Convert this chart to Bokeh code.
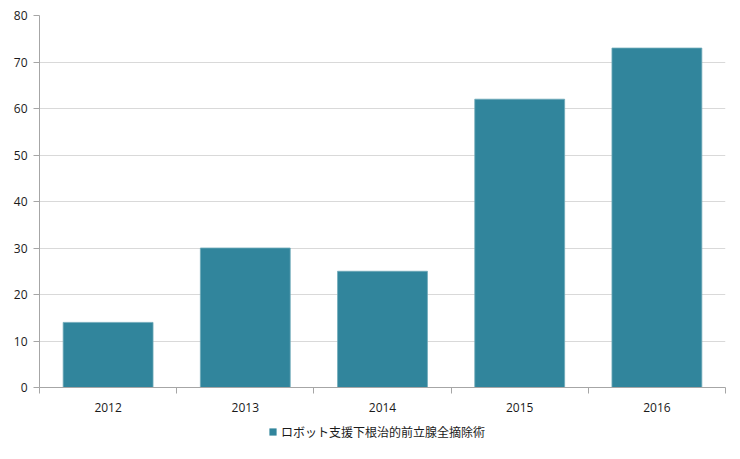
from bokeh.plotting import figure
from bokeh.layouts import column
from bokeh.models import FixedTicker, Legend, LegendItem, ColumnDataSource
from bokeh.embed import file_html
from bokeh.resources import INLINE

years = ["2012", "2013", "2014", "2015", "2016"]
counts = [14, 30, 25, 62, 73]
series_name = "ロボット支援下根治的前立腺全摘除術"
y_ticks = [0, 10, 20, 30, 40, 50, 60, 70, 80]

BAR = "#31859C"
AXIS = "#A6A6A6"
GRID = "#D9D9D9"
TXT = "#1A1A1A"

xpos = [i + 0.5 for i in range(len(years))]
src = ColumnDataSource(dict(x=xpos, top=counts, year=years))

p = figure(width=740, height=422, output_backend="svg", toolbar_location=None,
           x_range=(0, len(years)), y_range=(0, 80))
p.min_border_left = 39
p.min_border_right = 15
p.min_border_top = 15
p.min_border_bottom = 35
p.outline_line_color = None
p.background_fill_color = "white"

r = p.vbar(x="x", top="top", width=0.655, source=src, fill_color=BAR,
           line_color="#6FA9B9", line_width=0.8)

# x axis
p.xaxis.ticker = FixedTicker(ticks=xpos, minor_ticks=list(range(len(years) + 1)))
p.xaxis.major_label_overrides = {x: y for x, y in zip(xpos, years)}
p.xaxis.major_tick_line_color = None
p.xaxis.minor_tick_line_color = AXIS
p.xaxis.minor_tick_out = 6
p.xaxis.minor_tick_in = 0
p.xaxis.axis_line_color = AXIS
p.xaxis.major_label_text_font = "Open Sans"
p.xaxis.major_label_text_font_size = "12px"
p.xaxis.major_label_text_color = TXT
p.xaxis.major_label_standoff = 9

# y axis
p.yaxis.ticker = FixedTicker(ticks=y_ticks)
p.yaxis.major_tick_line_color = AXIS
p.yaxis.major_tick_out = 6
p.yaxis.major_tick_in = 0
p.yaxis.minor_tick_line_color = None
p.yaxis.axis_line_color = AXIS
p.yaxis.major_label_text_font = "Open Sans"
p.yaxis.major_label_text_font_size = "12px"
p.yaxis.major_label_text_color = TXT
p.yaxis.major_label_standoff = 6

p.xgrid.grid_line_color = None
p.ygrid.grid_line_color = GRID
p.ygrid.ticker = FixedTicker(ticks=y_ticks)

# legend strip below the chart
leg = figure(width=740, height=37, output_backend="svg", toolbar_location=None,
             x_range=(0, 1), y_range=(0, 1), x_axis_type=None, y_axis_type=None)
leg.min_border_left = 0
leg.min_border_right = 0
leg.min_border_top = 0
leg.min_border_bottom = 0
leg.outline_line_color = None
leg.xgrid.visible = False
leg.ygrid.visible = False
# zero-height key glyph: only its legend swatch is visible
key = leg.vbar(x=[0.5], top=[0], bottom=[0], width=0.01, fill_color=BAR,
               line_color=None)

legend = Legend(items=[LegendItem(label=series_name, renderers=[key])],
                orientation="horizontal", location=(229, 19),
                label_text_font="Noto Sans CJK JP", label_text_font_size="12px",
                label_text_color=TXT, glyph_width=9, glyph_height=9,
                label_standoff=4, border_line_color=None, padding=4, margin=0,
                background_fill_alpha=0)
leg.add_layout(legend, "center")

layout = column(p, leg, spacing=0)
open("out.html", "w").write(file_html(layout, INLINE))
